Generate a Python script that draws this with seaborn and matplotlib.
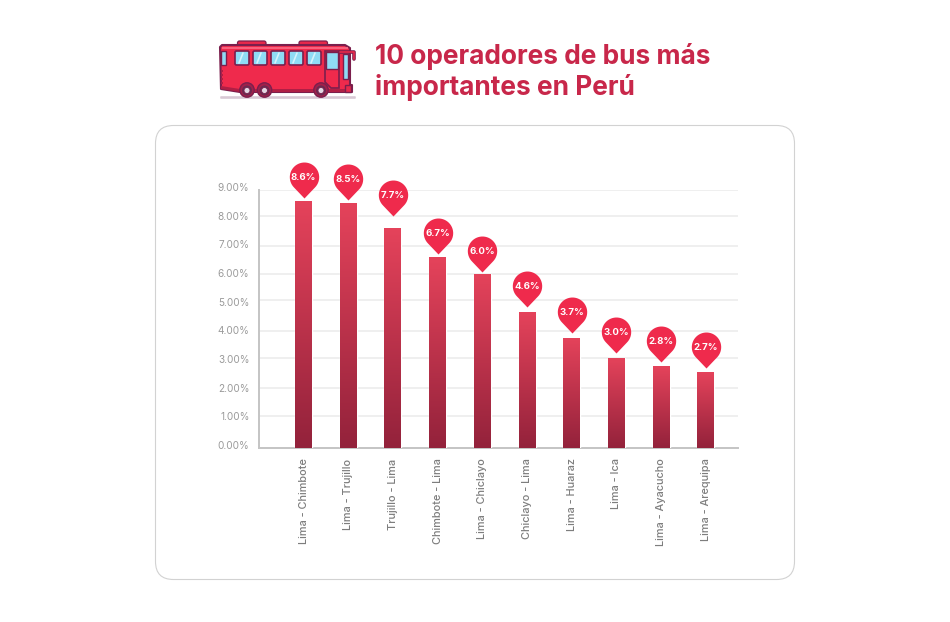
import numpy as np
import matplotlib
matplotlib.use("Agg")
import matplotlib.pyplot as plt
import seaborn as sns
from matplotlib.colors import LinearSegmentedColormap
from matplotlib.patches import Circle, FancyBboxPatch, Polygon, Rectangle
from matplotlib.path import Path
from matplotlib.transforms import ScaledTranslation

routes = ["Lima - Chimbote", "Lima - Trujillo", "Trujillo - Lima", "Chimbote - Lima", "Lima - Chiclayo",
          "Chiclayo - Lima", "Lima - Huaraz", "Lima - Ica", "Lima - Ayacucho", "Lima - Arequipa"]
bar_heights = [8.62, 8.55, 7.67, 6.66, 6.07, 4.74, 3.84, 3.14, 2.86, 2.65]
pin_labels = ["8.6%", "8.5%", "7.7%", "6.7%", "6.0%", "4.6%", "3.7%", "3.0%", "2.8%", "2.7%"]
pin_tips = [8.72, 8.65, 8.09, 6.77, 6.14, 4.92, 4.01, 3.31, 3.00, 2.79]
y_ticks = [0, 1, 2, 3, 4, 5, 6, 7, 8, 9]
grid_levels = [1.12, 2.09, 3.14, 4.08, 5.16, 6.07, 7.05, 8.09, 9.0]

title_lines = ["10 operadores de bus más", "importantes en Perú"]

W, H = 950, 622
FONT = "Inter"

sns.set_theme(style="white")
plt.rcParams["font.family"] = [FONT, "DejaVu Sans"]

fig = plt.figure(figsize=(W / 100, H / 100), dpi=100, facecolor="white")

# pixel-space layer for the card, bus and title
bg = fig.add_axes([0, 0, 1, 1], zorder=0)
bg.set_xlim(0, W)
bg.set_ylim(H, 0)
bg.axis("off")

bg.add_patch(FancyBboxPatch((155.5 + 18, 125.5 + 18), 639 - 36, 454 - 36, boxstyle="round,pad=18,rounding_size=18",
                            fc="white", ec="#d2d2d2", lw=0.8))

bg.text(375, 56.5, title_lines[0], fontsize=18.95, fontweight="bold", color="#c8274a", va="center", ha="left")
bg.text(375, 87.5, title_lines[1], fontsize=18.95, fontweight="bold", color="#c8274a", va="center", ha="left")


def draw_bus(a):
    dark = "#7b1f4d"
    red = "#ef2a4c"
    glass = "#8fdcf5"
    a.add_patch(FancyBboxPatch((221, 97), 134, 1, boxstyle="round,pad=0.8", fc="#d8c8d4", ec="none"))
    for x0, x1 in [(237.5, 266), (299, 327.5)]:
        a.add_patch(FancyBboxPatch((x0, 41), x1 - x0, 5, boxstyle="round,pad=0,rounding_size=2", fc="#e8284a", ec=dark, lw=0.9))
    # body
    a.add_patch(Polygon([(222, 45), (345, 45), (350, 48), (350, 85), (352, 85), (352, 92), (240, 92), (221, 89), (220, 47)],
                        closed=True, fc=red, ec=dark, lw=1.5, joinstyle="round"))
    a.add_patch(Polygon([(221, 86), (240, 89), (350, 89), (350, 92), (240, 92), (221, 89)], closed=True, fc="#b01f45", ec="none"))
    a.add_patch(Rectangle((222, 46.5), 126, 2, fc="#f9607c", ec="none"))
    # windows
    for x0 in [235, 253, 271, 289, 307]:
        a.add_patch(FancyBboxPatch((x0, 51), 14, 14, boxstyle="round,pad=0,rounding_size=1.5", fc=glass, ec=dark, lw=1.2))
        a.plot([x0 + 4, x0 + 8], [63, 53], color="#d4f3fc", lw=1.2)
    a.add_patch(Rectangle((221, 51), 4.5, 13.5, fc=glass, ec=dark, lw=1.0))
    # door and windscreen
    a.add_patch(Polygon([(325, 51), (339, 51), (339, 88), (331, 88), (325, 82)], closed=True, fc=red, ec=dark, lw=1.2))
    a.add_patch(Rectangle((326, 52), 12, 17, fc=glass, ec=dark, lw=1.0))
    a.add_patch(Rectangle((343, 54), 5, 25, fc=glass, ec=dark, lw=1.0))
    a.plot([340, 354, 354], [51.5, 51.5, 59], color=dark, lw=2.6, solid_capstyle="round")
    a.plot([340, 354, 354], [51.5, 51.5, 59], color="#e8284a", lw=1.2, solid_capstyle="round")
    a.add_patch(Rectangle((345, 85), 6, 7, fc="#e8284a", ec=dark, lw=1.0))
    # back lights
    for yy in [70, 74, 78, 82]:
        a.add_patch(Rectangle((221, yy), 2, 2.4, fc="#b01f45", ec="none"))
    # wheels
    for cx in [247, 264.5, 321]:
        a.add_patch(Circle((cx, 90), 7.2, fc="#a3204a", ec=dark, lw=1.0))
        a.add_patch(Circle((cx, 90.5), 5, fc="#6a2a50", ec="none"))
        a.add_patch(Circle((cx, 90.5), 3, fc="#e3d8e3", ec=dark, lw=0.6))


draw_bus(bg)

# chart axes lined up with the reference plot frame
ax_left, ax_right, ax_top, ax_bottom = 258.5, 738, 190, 448
ax = fig.add_axes([ax_left / W, 1 - ax_bottom / H, (ax_right - ax_left) / W, (ax_bottom - ax_top) / H], zorder=1)
ax.patch.set_alpha(0)

sns.barplot(x=routes, y=bar_heights, color="#d0364f", width=0.38, saturation=1, ax=ax, zorder=3)

cmap = LinearSegmentedColormap.from_list("bar", ["#e5435b", "#93223b"])
gradient = np.linspace(0, 1, 256).reshape(-1, 1)
centers = []
for patch in ax.patches:
    x0, h, w = patch.get_x(), patch.get_height(), patch.get_width()
    centers.append(x0 + w / 2)
    patch.set_facecolor("none")
    im = ax.imshow(gradient, extent=[x0, x0 + w, 0, h], aspect="auto", cmap=cmap, zorder=3, origin="upper")
    im.set_clip_path(patch)

ax.set_xlim(-1.007, 9.72)
ax.set_ylim(0, 9)
ax.hlines(grid_levels, *ax.get_xlim(), color="#ebebeb", lw=1.1, zorder=1)

theta = np.linspace(np.radians(-45), np.radians(225), 40)
pin_verts = [(0, 0)] + [(14.7 * np.cos(t), 21.3 + 14.7 * np.sin(t)) for t in theta] + [(0, 0)]
pin_path = Path(pin_verts, closed=True)
pin_scale = max(abs(v) for p in pin_verts for v in p)
pin_size = (2 * pin_scale * 0.72) ** 2
sns.scatterplot(x=centers, y=pin_tips, marker=pin_path, s=pin_size, color="#ef2a4c", linewidth=0, ax=ax, zorder=5, clip_on=False)

for cx, tip, lab in zip(centers, pin_tips, pin_labels):
    ax.annotate(lab, (cx, tip), xytext=(0, 14.8), textcoords="offset points", ha="center", va="center",
                color="white", fontsize=6.9, fontweight="bold", zorder=6)

ax.set_yticks(y_ticks)
ax.set_yticklabels([f"{v:.2f}%" for v in y_ticks], fontsize=7.2, color="#9a9a9a")
ax.tick_params(axis="y", length=0, pad=6.5)
shift = ScaledTranslation(0, 3 / 100, fig.dpi_scale_trans)
for lab in ax.get_yticklabels():
    lab.set_transform(lab.get_transform() + shift)

ax.set_xticks(range(len(routes)))
ax.set_xticklabels(routes, rotation=90, fontsize=7.9, color="#7d7d7d", ha="center", va="top", fontweight="medium")
ax.tick_params(axis="x", length=0, pad=7.5)

sns.despine(ax=ax, top=True, right=True)
for side in ["left", "bottom"]:
    ax.spines[side].set_color("#c4c4c4")
    ax.spines[side].set_linewidth(1.4)
    ax.spines[side].set_zorder(2)

fig.savefig("out.png", dpi=100)
plt.close(fig)
